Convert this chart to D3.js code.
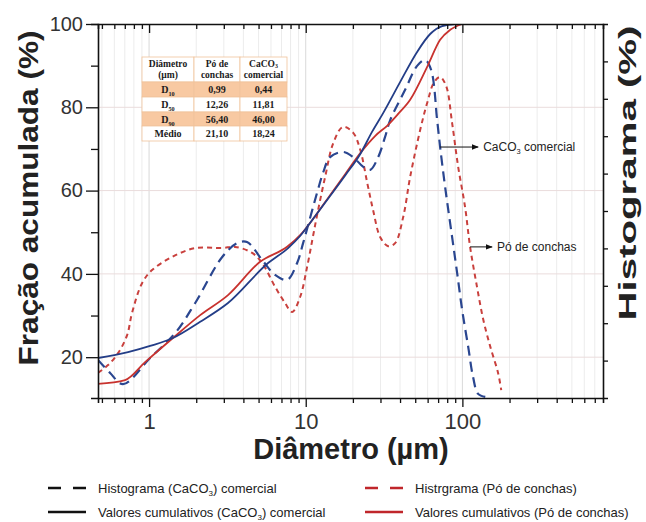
<!DOCTYPE html>
<html>
<head>
<meta charset="utf-8">
<script src="https://cdn.jsdelivr.net/npm/d3@7"></script>
<style>
  body { margin: 0; background: #fff; }
  svg { display: block; font-family: "Liberation Sans", Arial, sans-serif; }
</style>
</head>
<body>
<svg id="chart"></svg>
<script>
// cumulative curves: [diameter µm, fração acumulada %]
const cumCaCO3 = [[0.472,19.8],[0.734,21.2],[1.015,22.7],[1.42,24.6],[2.12,28.5],[3.19,33.0],[5.75,42.6],[7.72,46.2],[9.21,49.1],[11.5,53.9],[14.3,58.7],[17.9,63.7],[22.3,68.8],[26.5,74.1],[31.2,78.6],[40.1,86.1],[51.4,93.3],[62.3,97.6],[74.3,99.5],[89.9,100]];
const cumConchas = [[0.472,13.6],[0.703,14.5],[0.943,18.8],[1.42,24.6],[2.12,30.1],[3.19,34.9],[5.11,42.9],[7.61,46.5],[9.21,49.3],[11.5,53.9],[14.3,58.9],[17.9,64.0],[22.3,69.0],[27.7,73.1],[33.6,75.8],[38.9,78.4],[46.4,81.8],[59.6,89.7],[72.1,96.2],[83.6,98.6],[100,100]];
// histogram curves: [diameter µm, histograma (right axis units)]
const histCaCO3 = [[0.472,1.02],[0.564,0.67],[0.682,0.37],[1.015,1.07],[1.47,1.74],[1.97,2.54],[2.93,3.77],[3.65,4.14],[4.22,4.17],[5.27,3.69],[6.38,3.29],[7.61,3.16],[8.81,3.61],[9.62,4.14],[10.7,4.84],[11.8,5.48],[12.9,6.02],[14.3,6.44],[17.3,6.58],[20.1,6.44],[23.3,6.18],[25.8,6.10],[29.0,6.44],[32.1,6.98],[34.6,7.43],[43.1,8.24],[51.4,8.88],[57.8,9.04],[63.2,8.77],[69.0,7.43],[72.1,6.71],[77.6,5.64],[86.0,4.30],[92.6,3.34],[99.7,2.35],[109,1.36],[117,0.56],[126,0.11],[140,0.03]];
const histConchas = [[0.472,0.67],[0.547,0.88],[0.634,1.20],[0.724,1.68],[0.778,2.27],[0.902,3.07],[1.045,3.42],[1.40,3.77],[1.97,4.01],[2.93,4.01],[3.54,4.04],[4.55,3.88],[5.27,3.61],[6.38,2.97],[7.38,2.54],[8.19,2.30],[9.21,2.70],[10.2,3.50],[11.1,4.30],[12.0,5.03],[13.3,5.91],[15.0,6.82],[17.3,7.25],[20.1,7.09],[22.3,6.63],[24.7,5.75],[26.9,5.03],[29.9,4.30],[33.6,4.06],[37.2,4.14],[41.9,4.84],[46.4,5.91],[53.8,7.17],[59.6,7.89],[66.1,8.45],[72.1,8.58],[78.8,8.34],[86.0,7.35],[94.0,6.18],[104,5.11],[112,4.04],[124,2.97],[136,2.09],[151,1.36],[169,0.67],[177,0.21]];

const yMajor = [20, 40, 60, 80, 100];
const yMinor = [30, 50, 70, 90];
const xLabels = [1, 10, 100];
const rightTicks = [1, 2, 3, 4, 5, 6, 7, 8, 9];

const tableHead = [["Diâmetro", "(µm)"], ["Pó de", "conchas"], ["CaCO{3}", "comercial"]];
const tableRows = [
  ["D{10}", "0,99", "0,44"],
  ["D{50}", "12,26", "11,81"],
  ["D{90}", "56,40", "46,00"],
  ["Médio", "21,10", "18,24"]
];

const legendItems = [
  {label: "Histograma (CaCO{3}) comercial", color: "#111", dash: "13,12"},
  {label: "Histrgrama  (Pó de conchas)", color: "#c0262b", dash: "13,12"},
  {label: "Valores cumulativos (CaCO{3}) comercial", color: "#111", dash: null},
  {label: "Valores cumulativos (Pó de conchas)", color: "#c0262b", dash: null}
];

const annotations = [
  {text: "CaCO{3} comercial", d: 72.1, h: 6.71, len: 38},
  {text: "Pó de conchas", d: 112, h: 4.04, len: 22}
];

const W = 646, H = 522;
const plot = {left: 98, right: 603, top: 24, bottom: 398};
const BLUE = "#233d87", RED = "#c8322e";

const svg = d3.select("#chart").attr("width", W).attr("height", H);

const x = d3.scaleLog().domain([0.472, 790]).range([plot.left, plot.right]);
const yL = d3.scaleLinear().domain([10.2, 100]).range([plot.bottom, plot.top]);
const yR = d3.scaleLinear().domain([0, 10]).range([plot.bottom, plot.top]);

// text with {sub} markup
function richText(sel, str, size, shift) {
  const s = size * (shift || 0.25);
  const parts = str.split(/\{([^}]+)\}/);
  parts.forEach((p, i) => {
    if (!p) return;
    if (i % 2 === 1) {
      sel.append("tspan").attr("dy", s).attr("font-size", size * 0.62).text(p);
    } else {
      const t = sel.append("tspan").text(p);
      if (i > 0) t.attr("dy", -s);
    }
  });
}

// log ticks
const xTicks = [];
[0.1, 1, 10, 100].forEach(dec => {
  for (let k = 1; k <= 9; k++) {
    const v = +(k * dec).toPrecision(3);
    if (v >= 0.472 && v <= 790) xTicks.push(v);
  }
});
const isMajor = v => xLabels.includes(v);

// --- grid ---
const grid = svg.append("g");
grid.selectAll("line.v").data(xTicks).join("line")
  .attr("x1", d => x(d)).attr("x2", d => x(d))
  .attr("y1", plot.top).attr("y2", plot.bottom)
  .attr("stroke", d => isMajor(d) ? "#d9d9d9" : "#ececec").attr("stroke-width", 1);
grid.selectAll("line.h").data(yMajor.slice(0, 4)).join("line")
  .attr("x1", plot.left).attr("x2", plot.right)
  .attr("y1", d => yL(d)).attr("y2", d => yL(d))
  .attr("stroke", "#eadcdc").attr("stroke-width", 1);

// --- table ---
const colX = [142, 194, 240, 287];
const rowY = [57, 82, 97, 112, 126, 141];
const tbl = svg.append("g").attr("font-family", "'Liberation Serif', 'Times New Roman', serif")
  .attr("font-weight", "bold").attr("fill", "#1a1a1a");
for (let r = 0; r < 5; r++) {
  for (let c = 0; c < 3; c++) {
    tbl.append("rect").attr("x", colX[c]).attr("y", rowY[r])
      .attr("width", colX[c + 1] - colX[c]).attr("height", rowY[r + 1] - rowY[r])
      .attr("fill", (r === 1 || r === 3) ? "#f8c9a2" : "#fff")
      .attr("stroke", "#efc39c").attr("stroke-width", 0.8);
  }
}
tableHead.forEach((lines, c) => {
  lines.forEach((ln, i) => {
    const t = tbl.append("text").attr("x", (colX[c] + colX[c + 1]) / 2).attr("y", rowY[0] + 9.5 + i * 11.5)
      .attr("text-anchor", "middle").attr("font-size", 9.5);
    richText(t, ln, 9.5, 0.15);
  });
});
tableRows.forEach((row, r) => {
  row.forEach((cell, c) => {
    const t = tbl.append("text").attr("x", (colX[c] + colX[c + 1]) / 2).attr("y", rowY[r + 1] + 11)
      .attr("text-anchor", "middle").attr("font-size", 10);
    richText(t, cell, 10);
  });
});

// --- curves ---
svg.append("clipPath").attr("id", "clip").append("rect")
  .attr("x", plot.left).attr("y", plot.top).attr("width", plot.right - plot.left).attr("height", plot.bottom - plot.top);
const curves = svg.append("g").attr("clip-path", "url(#clip)").attr("fill", "none");

const cumLine = d3.line().x(d => x(d[0])).y(d => yL(d[1])).curve(d3.curveMonotoneX);
const histLine = d3.line().x(d => x(d[0])).y(d => yR(d[1])).curve(d3.curveCatmullRom.alpha(0.5));

curves.append("path").datum(histConchas).attr("d", histLine)
  .attr("stroke", "#c9403d").attr("stroke-width", 2).attr("stroke-dasharray", "5,4");
curves.append("path").datum(histCaCO3).attr("d", histLine)
  .attr("stroke", "#2a4690").attr("stroke-width", 2.2).attr("stroke-dasharray", "10,6");
curves.append("path").datum(cumConchas).attr("d", cumLine)
  .attr("stroke", RED).attr("stroke-width", 1.8);
curves.append("path").datum(cumCaCO3).attr("d", cumLine)
  .attr("stroke", BLUE).attr("stroke-width", 1.8);

// --- annotations ---
svg.append("defs").append("marker").attr("id", "arrow")
  .attr("viewBox", "0 0 10 10").attr("refX", 9).attr("refY", 5)
  .attr("markerWidth", 7).attr("markerHeight", 7).attr("orient", "auto")
  .append("path").attr("d", "M0,1L10,5L0,9z").attr("fill", "#111");
annotations.forEach(a => {
  const ax = x(a.d), ay = yR(a.h);
  svg.append("line").attr("x1", ax).attr("x2", ax + a.len).attr("y1", ay).attr("y2", ay)
    .attr("stroke", "#111").attr("stroke-width", 1).attr("marker-end", "url(#arrow)");
  const t = svg.append("text").attr("x", ax + a.len + 5).attr("y", ay + 4)
    .attr("font-size", 12).attr("fill", "#222");
  richText(t, a.text, 12);
});

// --- axes ---
const axisColor = "#111";
function styleAxis(g) {
  g.select(".domain").attr("stroke", axisColor).attr("stroke-width", 1.6);
  g.selectAll(".tick line").attr("stroke", axisColor).attr("stroke-width", 1.3);
}

const gB = svg.append("g").attr("transform", `translate(0,${plot.bottom})`)
  .call(d3.axisBottom(x).tickValues(xTicks).tickSizeOuter(0).tickSize(5).tickPadding(10)
    .tickFormat(d => isMajor(d) ? d3.format("d")(d) : ""));
styleAxis(gB);
gB.selectAll(".tick").filter(d => isMajor(d)).select("line").attr("y2", 9);
gB.selectAll(".tick text").attr("font-size", 22).attr("fill", "#333").attr("font-family", "'Liberation Sans', Arial, sans-serif");

const gT = svg.append("g").attr("transform", `translate(0,${plot.top})`)
  .call(d3.axisTop(x).tickValues(xTicks).tickSizeOuter(0).tickSize(-5).tickFormat(""));
styleAxis(gT);
gT.selectAll(".tick").filter(d => isMajor(d)).select("line").attr("y2", 9);

const gL = svg.append("g").attr("transform", `translate(${plot.left},0)`)
  .call(d3.axisLeft(yL).tickValues(yMajor.concat(yMinor)).tickSizeOuter(0).tickSize(7).tickPadding(8)
    .tickFormat(d => yMajor.includes(d) ? d : ""));
styleAxis(gL);
gL.selectAll(".tick").filter(d => yMajor.includes(d)).select("line").attr("x2", -12);
gL.selectAll(".tick text").attr("font-size", 20).attr("fill", "#333").attr("font-family", "'Liberation Sans', Arial, sans-serif");

const gR = svg.append("g").attr("transform", `translate(${plot.right},0)`)
  .call(d3.axisRight(yR).tickValues(rightTicks).tickSizeOuter(0).tickSize(5).tickFormat(""));
styleAxis(gR);

// --- titles ---
svg.append("text").attr("x", 351).attr("y", 459).attr("text-anchor", "middle")
  .attr("font-size", 29).attr("font-weight", "bold").attr("fill", "#222")
  .text("Diâmetro (µm)");
svg.append("text").attr("transform", "translate(38,198) rotate(-90)").attr("text-anchor", "middle")
  .attr("font-size", 27).attr("font-weight", "bold").attr("fill", "#222")
  .attr("textLength", 335).attr("lengthAdjust", "spacingAndGlyphs")
  .text("Fração acumulada (%)");
svg.append("text").attr("transform", "translate(636,173) rotate(-90)").attr("text-anchor", "middle")
  .attr("font-size", 23).attr("font-weight", "bold").attr("fill", "#222")
  .attr("textLength", 295).attr("lengthAdjust", "spacingAndGlyphs")
  .text("Histograma (%)");

// --- legend ---
const leg = svg.append("g");
legendItems.forEach((it, i) => {
  const lx = i % 2 === 0 ? 48 : 365;
  const ly = i < 2 ? 488 : 512;
  leg.append("line").attr("x1", lx).attr("x2", lx + 38).attr("y1", ly).attr("y2", ly)
    .attr("stroke", it.color).attr("stroke-width", 2.4)
    .attr("stroke-dasharray", it.dash);
  const t = leg.append("text").attr("x", lx + 50).attr("y", ly + 4.5)
    .attr("font-size", 13).attr("fill", "#222");
  richText(t, it.label, 13);
});
</script>
</body>
</html>
